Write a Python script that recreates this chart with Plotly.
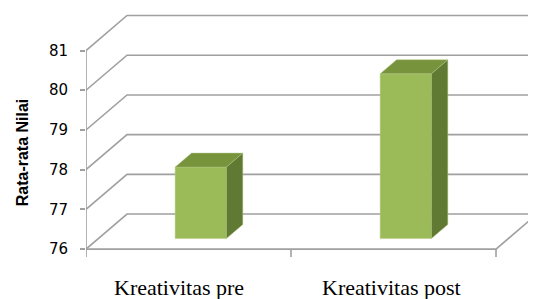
import plotly.graph_objects as go

categories = ["Kreativitas pre", "Kreativitas post"]
values = [77.8, 80.15]
y_ticks = [76, 77, 78, 79, 80, 81]
y_title = "Rata-rata Nilai"

# geometry (styles)
Y0 = 76
PXU = 39.7                            # px per value unit
DX, DY = 41 / 205, 35 / PXU           # depth vector in data units
BAR_W = 0.25
F0, F1 = 0.3, 0.7                     # bar front/back depth fractions
GRID = "#a0a0a0"
FRONT, TOP, SIDE = "#9bbb59", "#77933c", "#617a33"
OFF = 8                               # page body margin

fig = go.Figure()

def line(xs, ys, color=GRID, w=1.6):
    fig.add_trace(go.Scatter(x=xs, y=ys, mode="lines", line=dict(color=color, width=w),
                             hoverinfo="skip", showlegend=False))

n = len(categories)
XMAX = 450 / 205
for t in y_ticks:
    line([0, DX, XMAX + 1], [t, t + DY, t + DY])
line([0, 0], [Y0, y_ticks[-1]])
line([0, n, n + DX], [Y0, Y0, Y0 + DY])
for i in range(n + 1):
    line([i, i], [Y0, Y0 - 0.2])

def poly(xs, ys, color):
    fig.add_trace(go.Scatter(x=xs + [xs[0]], y=ys + [ys[0]], mode="lines", fill="toself",
                             fillcolor=color, line=dict(color="rgba(180,200,130,0.6)", width=0.8),
                             hoverinfo="skip", showlegend=False))

for i, v in enumerate(values):
    xl = i + 0.5 - BAR_W / 2 + F0 * DX
    xr = xl + BAR_W
    yb = Y0 + F0 * DY
    yt = v + F0 * DY
    ddx, ddy = (F1 - F0) * DX, (F1 - F0) * DY
    poly([xl, xr, xr, xl], [yb, yb, yt, yt], FRONT)
    poly([xl, xr, xr + ddx, xl + ddx], [yt, yt, yt + ddy, yt + ddy], TOP)
    poly([xr, xr + ddx, xr + ddx, xr], [yb, yb + ddy, yt + ddy, yt], SIDE)

annotations = []
label_x = [0.455, 1.49]
for i, c in enumerate(categories):
    annotations.append(dict(x=label_x[i], y=Y0, xref="x", yref="y", text=c, showarrow=False,
                            xanchor="center", yanchor="top", yshift=-24,
                            font=dict(family="Liberation Serif", size=22, color="#000")))
annotations.append(dict(x=-0.142, y=78.44, xref="paper", yref="y", text="<b>" + y_title + "</b>",
                        showarrow=False, textangle=-90, xanchor="center", yanchor="middle",
                        font=dict(family="Liberation Sans", size=16, color="#000")))

fig.update_layout(
    width=536, height=299, margin=dict(l=86 - OFF, r=OFF, t=0, b=299 - (261 - OFF)),
    paper_bgcolor="white", plot_bgcolor="white",
    xaxis=dict(range=[0, XMAX], showgrid=False, zeroline=False, showticklabels=False,
               ticks="", showline=False, fixedrange=True),
    yaxis=dict(range=[Y0 - 0.3, Y0 + (249 - OFF) / PXU], showgrid=False, zeroline=False,
               showline=False, tickvals=y_ticks, ticks="outside", ticklen=5, tickcolor=GRID,
               tickwidth=1.6, ticklabelstandoff=9,
               tickfont=dict(family="DejaVu Sans", size=15, color="#000")),
    annotations=annotations,
)

fig.write_html("out.html")
